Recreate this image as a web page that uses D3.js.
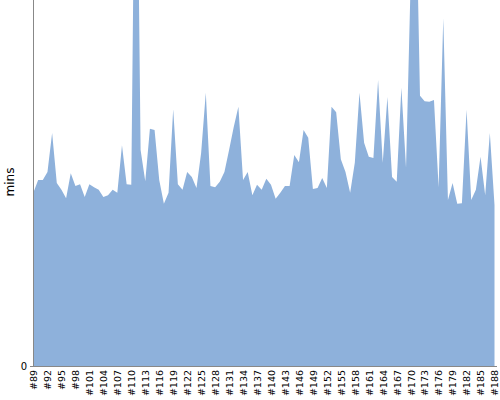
<!DOCTYPE html>
<html><head><meta charset="utf-8">
<script src="https://cdn.jsdelivr.net/npm/d3@7"></script>
<style>body{margin:0;background:#fff}svg{display:block}</style>
</head><body>
<script>
const categories = Array.from({length:100},(_,i)=>"#"+(89+i));
const values = [28.5,30.5,30.5,31.8,38.2,30.0,28.9,27.5,31.6,29.5,
29.8,27.7,29.8,29.3,28.9,27.7,28.0,28.9,28.4,36.2,
29.8,29.7,105.9,35.4,30.3,38.9,38.7,30.5,26.6,28.4,
42.1,29.8,28.9,31.8,31.0,29.2,34.9,44.8,29.5,29.3,
30.2,31.8,35.4,39.2,42.5,30.5,31.8,28.0,29.7,28.9,
30.7,29.7,27.4,28.4,29.5,29.5,34.6,33.4,38.7,37.4,
29.0,29.2,30.8,29.2,42.5,41.6,33.9,31.8,28.4,33.3,
44.8,36.6,34.3,34.1,46.9,33.3,44.1,31.0,30.2,45.6,
32.5,63.3,83.0,44.3,43.4,43.3,43.6,29.3,57.0,27.2,
30.0,26.6,26.7,42.0,27.2,28.9,34.3,28.0,38.2,26.4];
const tickLabels = categories.filter((d,i)=>i%3===0);
const yTicks = [0];
const yMax = 60;

const W=500,H=400;
const svg=d3.select("body").append("svg").attr("width",W).attr("height",H);
const x=d3.scalePoint().domain(categories).range([33.5,494.5]);
const y=d3.scaleLinear().domain([0,yMax]).range([366,0]);

svg.append("clipPath").attr("id","c").append("rect").attr("x",33).attr("y",0).attr("width",470).attr("height",366);

const area=d3.area().x((d,i)=>x(categories[i])).y0(y(0)).y1(d=>y(d));
svg.append("path").datum(values).attr("clip-path","url(#c)")
  .attr("d",area).attr("fill","#8eb1db");

const gx=svg.append("g").attr("transform","translate(0,366)")
  .call(d3.axisBottom(x).tickValues(tickLabels).tickSize(0).tickSizeOuter(0));
gx.select(".domain").attr("stroke","#888").attr("d","M33,0.5H497");
gx.selectAll("text").attr("transform","rotate(-90)").attr("text-anchor","end")
  .attr("x",-4).attr("y",0).attr("dy","0.35em")
  .attr("font-family","DejaVu Sans").attr("font-size",9.5).attr("fill","#000");

const gy=svg.append("g").attr("transform","translate(33,0)")
  .call(d3.axisLeft(y).tickValues(yTicks).tickSize(3).tickSizeOuter(0));
gy.select(".domain").attr("stroke","#888").attr("d","M0.5,0V366");
gy.selectAll(".tick line").attr("stroke","#888");
gy.selectAll("text").attr("font-family","DejaVu Sans").attr("font-size",10).attr("fill","#000");

svg.append("text").attr("transform","translate(14,182) rotate(-90)")
  .attr("text-anchor","middle").attr("font-family","DejaVu Sans").attr("font-size",12)
  .text("mins");
</script>
</body></html>
